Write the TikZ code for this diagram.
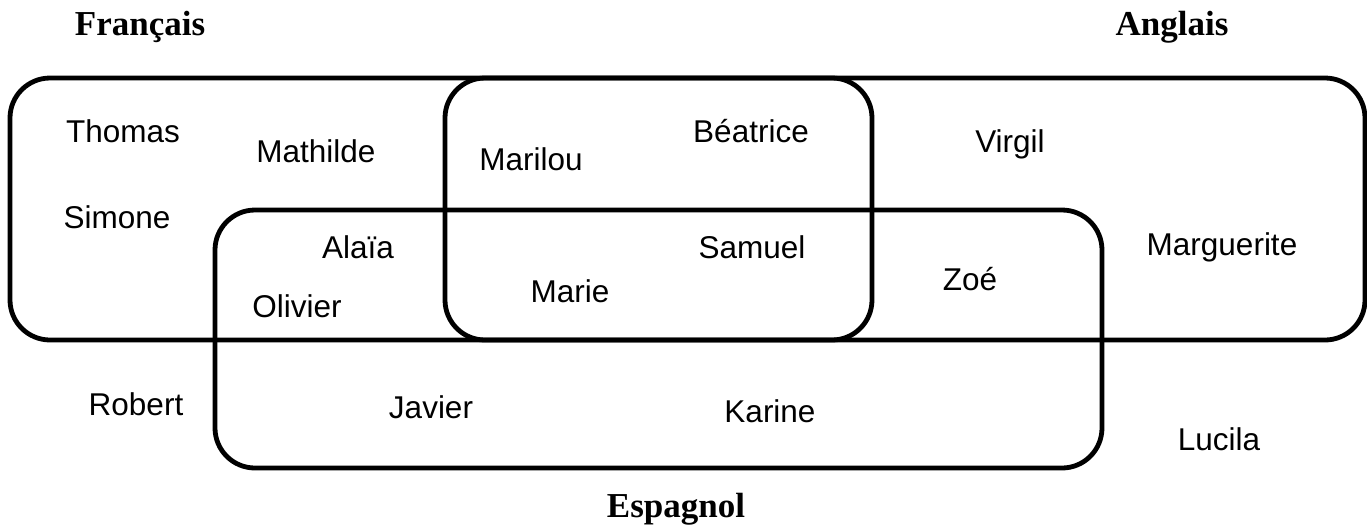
\documentclass[tikz,border=0pt]{standalone}
\usepackage{fontspec}
\setmainfont{Liberation Serif}
\newfontfamily\namefont{Liberation Sans}
\usepackage{tikz}
\usetikzlibrary{positioning}

\begin{document}
\begin{tikzpicture}[x=0.5pt, y=-0.5pt,
                setline/.style={line width=2.4pt, rounded corners=20pt},
                who/.style={anchor=base, inner sep=0pt, font=\namefont\fontsize{15.75}{18}\selectfont},
                lang/.style={anchor=base, inner sep=0pt, font=\bfseries\fontsize{17.5}{20}\selectfont}]
                \useasboundingbox (0,0) rectangle (1367,527);

                \draw[setline] (10,78) rectangle (872,340);
                \draw[setline] (445,78) rectangle (1365,340);
                \draw[setline] (215,210) rectangle (1102,468);

                \node [lang] (Fr) at (140,35) {Français};
                \node [lang] (En) at (1172,35) {Anglais};
                \node [lang] (Es) at (676,517) {Espagnol};

                \node [who] (Thomas) at (123,142) {Thomas};
                \node [who] (Mathilde) at (316,162) {Mathilde};
                \node [who] (Simone) at (117,228) {Simone};
                \node [who] (Alaia) at (358,258) {Alaïa};
                \node [who] (Olivier) at (297,317) {Olivier};
                \node [who] (Marilou) at (531,170) {Marilou};
                \node [who] (Beatrice) at (751,142) {Béatrice};
                \node [who] (Samuel) at (752,258) {Samuel};
                \node [who] (Marie) at (570,302) {Marie};
                \node [who] (Virgil) at (1010,152) {Virgil};
                \node [who] (Marguerite) at (1222,255) {Marguerite};
                \node [who] (Zoe) at (970,290) {Zoé};
                \node [who] (Robert) at (136,415) {Robert};
                \node [who] (Javier) at (431,418) {Javier};
                \node [who] (Karine) at (770,422) {Karine};
                \node [who] (Lucila) at (1219,450) {Lucila};
            \end{tikzpicture}
\end{document}
